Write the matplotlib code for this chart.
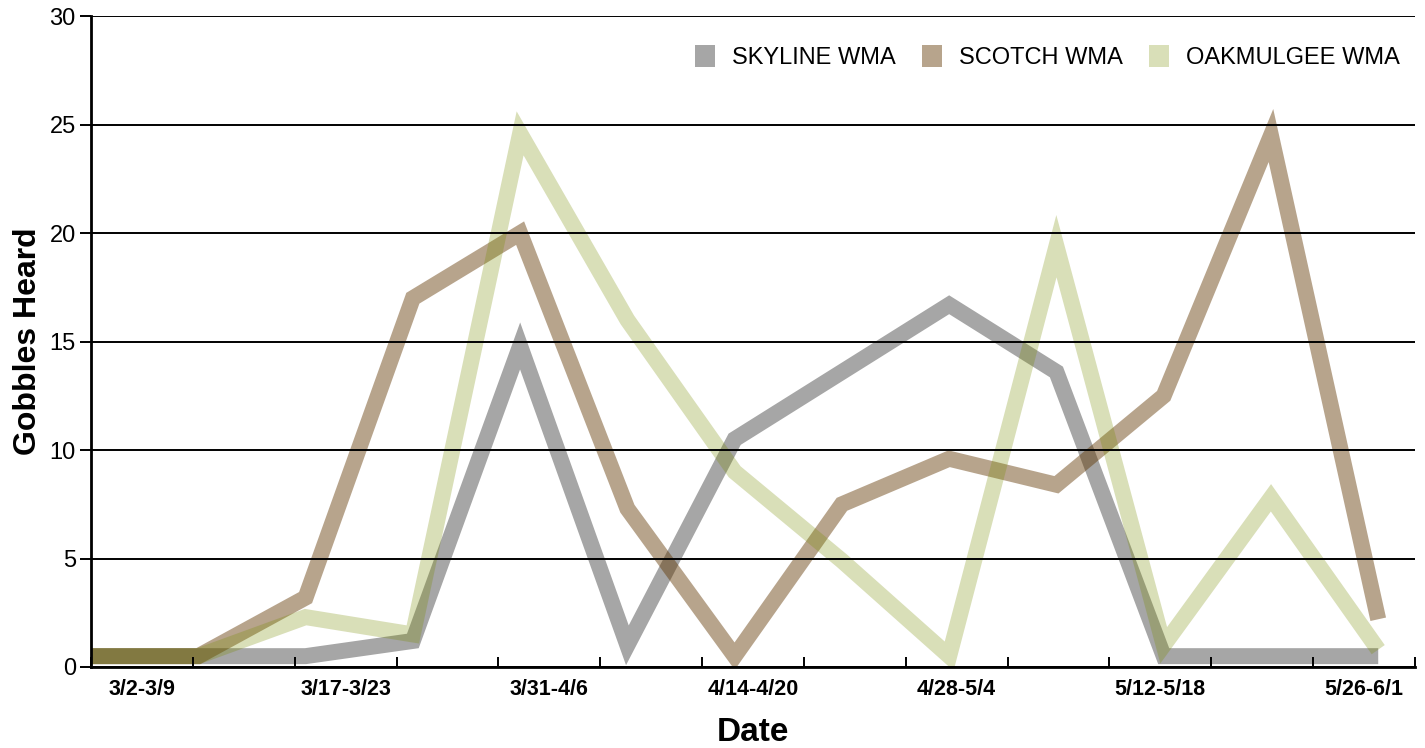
import numpy as np
import matplotlib
matplotlib.use("Agg")
import matplotlib.pyplot as plt
from matplotlib.patches import Patch

# weekly survey periods
weeks = ["3/2-3/9", "3/9-3/16", "3/17-3/23", "3/24-3/30", "3/31-4/6", "4/7-4/13",
         "4/14-4/20", "4/21-4/27", "4/28-5/4", "5/5-5/11", "5/12-5/18", "5/19-5/25",
         "5/26-6/1"]

skyline = [0.5, 0.5, 0.5, 1.2, 14.8, 1.0, 10.5, 13.6, 16.7, 13.6, 0.5, 0.5, 0.5]
scotch = [0.5, 0.5, 3.2, 17.0, 20.0, 7.3, 0.5, 7.5, 9.6, 8.4, 12.5, 24.5, 2.2]
oakmulgee = [0.5, 0.5, 2.3, 1.5, 24.6, 16.0, 9.0, 4.9, 0.5, 19.4, 1.0, 7.8, 0.8]

series_names = ["SKYLINE WMA", "SCOTCH WMA", "OAKMULGEE WMA"]
# dark "ink" colours with low alpha so crossings darken like overprinting
series_colors = [(0.0, 0.0, 0.0), (0.38, 0.21, 0.0), (0.47, 0.55, 0.0)]
series_alpha = [0.35, 0.45, 0.28]

plt.rcParams["font.family"] = ["Liberation Sans", "DejaVu Sans"]

fig = plt.figure(figsize=(14.25, 7.48), dpi=100)
ax = fig.add_axes([0.0639, 0.1083, 0.929, 0.870])

n = len(weeks)
xs = np.linspace(0, 12.64, n)
for vals, col, a in zip([skyline, scotch, oakmulgee], series_colors, series_alpha):
    ax.plot(xs, vals, color=col, alpha=a, lw=11.5,
            solid_capstyle="butt", solid_joinstyle="miter", zorder=2)

ax.set_xlim(0, n)
ax.set_ylim(0, 30)

# horizontal grid drawn over the lines
ax.set_yticks(range(0, 31, 5))
ax.yaxis.grid(True, color="black", lw=1.4, zorder=3)
ax.set_axisbelow(False)
ax.tick_params(axis="y", length=8, width=1.4, direction="out", labelsize=17, pad=3)

# boundary ticks between weeks, labels on every other week
ax.set_xticks(np.arange(0, n + 1), minor=False)
ax.set_xticklabels([])
ax.tick_params(axis="x", which="major", length=7, width=1.4, direction="in")
ax.set_xticks(np.arange(0, n, 2) + 0.5, minor=True)
ax.set_xticklabels(weeks[::2], minor=True, fontweight="bold", fontsize=15.5)
ax.tick_params(axis="x", which="minor", length=0, pad=9)

for side in ["top", "right"]:
    ax.spines[side].set_visible(False)
for side in ["left", "bottom"]:
    ax.spines[side].set_linewidth(2)
    ax.spines[side].set_color("black")
    ax.spines[side].set_zorder(4)

ax.set_xlabel("Date", fontsize=24, fontweight="bold", labelpad=12)
ax.set_ylabel("Gobbles Heard", fontsize=23, fontweight="bold", labelpad=5)

handles = [Patch(facecolor=c, alpha=a, edgecolor="none")
           for c, a in zip(series_colors, series_alpha)]
leg = ax.legend(handles, series_names, loc="center right", ncol=3, frameon=False,
                fontsize=17, handlelength=0.85, handleheight=1.0, columnspacing=1.1,
                handletextpad=0.72, borderaxespad=0, bbox_to_anchor=(0.9955, 0.937))

fig.savefig("out.png", dpi=100)
